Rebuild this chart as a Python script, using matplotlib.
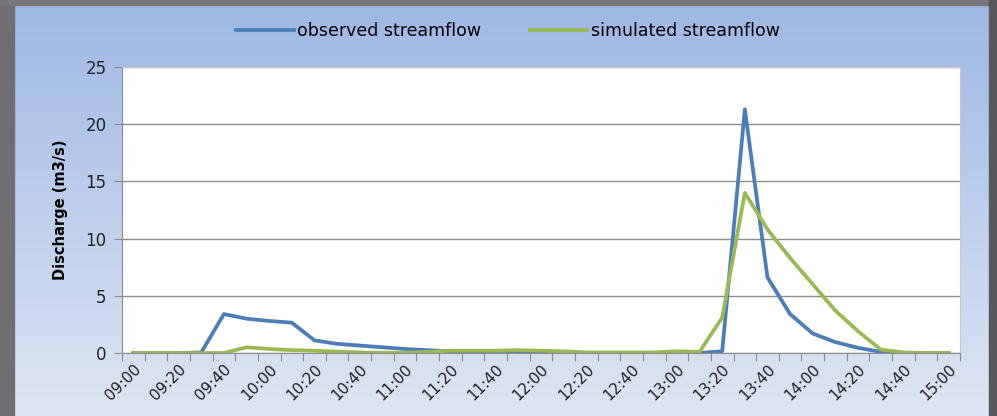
import numpy as np
import matplotlib
matplotlib.use("Agg")
import matplotlib.pyplot as plt
from matplotlib.patches import Rectangle

# 10-minute steps from 09:00 to 15:00
times = ["09:00", "09:10", "09:20", "09:30", "09:40", "09:50", "10:00", "10:10",
         "10:20", "10:30", "10:40", "10:50", "11:00", "11:10", "11:20", "11:30",
         "11:40", "11:50", "12:00", "12:10", "12:20", "12:30", "12:40", "12:50",
         "13:00", "13:10", "13:20", "13:30", "13:40", "13:50", "14:00", "14:10",
         "14:20", "14:30", "14:40", "14:50", "15:00"]

observed = [0, 0, 0, 0.05, 3.4, 3.0, 2.8, 2.65, 1.1, 0.8, 0.65, 0.5, 0.35,
            0.25, 0.15, 0.1, 0.05, 0.05, 0.02, 0.02, 0, 0, 0, 0, 0, 0, 0.15,
            21.3, 6.6, 3.4, 1.7, 0.95, 0.45, 0.1, 0, 0, 0]

simulated = [0, 0, 0, 0, 0, 0.5, 0.35, 0.25, 0.2, 0.12, 0.05, 0.02, 0.02,
             0.1, 0.2, 0.2, 0.2, 0.25, 0.2, 0.15, 0.05, 0.05, 0.05, 0.05,
             0.15, 0.1, 3.1, 14.0, 10.8, 8.3, 6.0, 3.7, 1.9, 0.3, 0.05, 0, 0]

W, H = 997, 416
fig = plt.figure(figsize=(W / 100, H / 100), dpi=100)

# background: blue gradient with a grey frame
bg = fig.add_axes([0, 0, 1, 1])
bg.set_xlim(0, W)
bg.set_ylim(H, 0)
bg.axis("off")
top = np.array([157, 184, 228]) / 255
bottom = np.array([222, 230, 244]) / 255
t = np.linspace(0, 1, 200)[:, None]
grad = top * (1 - t) + bottom * t
bg.imshow(grad[:, None, :].repeat(2, axis=1), extent=[0, W, H, 0], aspect="auto")
bg.add_patch(Rectangle((0, 0), 14, H, color="#706e72"))
bg.add_patch(Rectangle((0, 0), W, 5, color="#77767a"))
bg.add_patch(Rectangle((989, 0), 8, H, color="#58575c"))

ax = fig.add_axes([122 / W, 1 - 353 / H, (960 - 122) / W, (353 - 67) / H])
ax.set_facecolor("white")

x = np.arange(len(times))
ax.plot(x, observed, color="#4a7ebb", lw=2.7, label="observed streamflow",
        solid_joinstyle="round")
ax.plot(x, simulated, color="#98b954", lw=2.7, label="simulated streamflow",
        solid_joinstyle="round")

ax.set_xlim(-0.5, len(times) - 0.5)
ax.set_ylim(0, 25)
ax.set_yticks(range(0, 26, 5))
ax.yaxis.grid(True, color="#8c8c8c", lw=1)
ax.set_axisbelow(True)

# ticks between categories, labels every 20 minutes
ax.set_xticks(np.arange(-0.5, len(times), 1), minor=False)
ax.set_xticklabels([])
ax.set_xticks(x[::2], minor=True)
ax.set_xticklabels(times[::2], minor=True, rotation=45, ha="right",
                   rotation_mode="anchor", fontsize=11, color="#222222")
ax.tick_params(axis="x", which="minor", length=0, pad=6)
ax.tick_params(axis="x", which="major", length=6, color="#8c8c8c")
ax.tick_params(axis="y", length=6, color="#8c8c8c", labelsize=12, pad=5,
               labelcolor="#222222")

for side in ["left", "bottom"]:
    ax.spines[side].set_color("#8c8c8c")
for side in ["top", "right"]:
    ax.spines[side].set_color("#c8c8c8")

ax.set_ylabel("Discharge (m3/s)", fontsize=10.5, fontweight="bold", labelpad=13)

fig.legend(loc="center", bbox_to_anchor=(508 / W, 1 - 31 / H), ncol=2,
           frameon=False, handlelength=3.3, columnspacing=2.8, fontsize=12.5,
           handletextpad=0.2)

fig.savefig("out.png", dpi=100)
